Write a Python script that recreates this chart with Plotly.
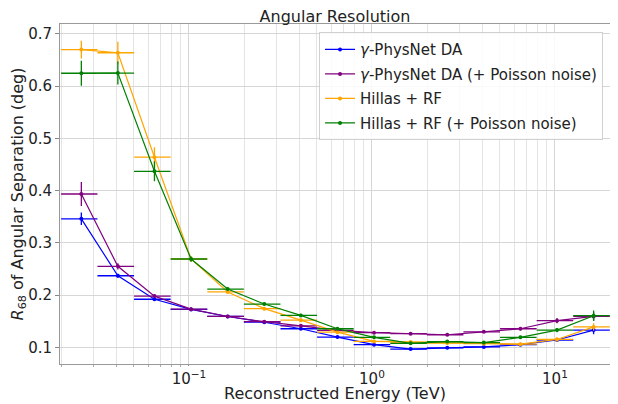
import plotly.graph_objects as go

# Energy bin edges (TeV)
bin_edges = [0.0200, 0.0316, 0.0501, 0.0794, 0.1259, 0.1995, 0.3162, 0.5012,
             0.7943, 1.2589, 1.9953, 3.1623, 5.0119, 7.9433, 12.589, 19.953]

# R68 values (deg)
physnet = [0.346, 0.237, 0.192, 0.1725, 0.159, 0.148, 0.1355, 0.1195, 0.105,
           0.0966, 0.099, 0.1007, 0.105, 0.114, 0.133]
physnet_err = [0.012, 0.004, 0.003, 0.003, 0.002, 0.002, 0.002, 0.002, 0.002,
               0.002, 0.002, 0.002, 0.002, 0.004, 0.008]
physnet_noise = [0.3935, 0.255, 0.198, 0.173, 0.159, 0.149, 0.141, 0.1325, 0.128,
                 0.126, 0.124, 0.1297, 0.1355, 0.151, 0.159]
physnet_noise_err = [0.023, 0.006, 0.004, 0.003, 0.002, 0.002, 0.002, 0.002, 0.002,
                     0.002, 0.002, 0.002, 0.003, 0.005, 0.008]
hillas = [0.670, 0.664, 0.464, 0.269, 0.206, 0.174, 0.152, 0.129, 0.1113,
          0.110, 0.108, 0.107, 0.106, 0.115, 0.139]
hillas_err = [0.017, 0.021, 0.019, 0.005, 0.003, 0.003, 0.003, 0.002, 0.002,
              0.002, 0.002, 0.002, 0.003, 0.004, 0.007]
hillas_noise = [0.6247, 0.625, 0.437, 0.269, 0.2115, 0.1828, 0.161, 0.1355, 0.119,
                0.1075, 0.111, 0.109, 0.119, 0.133, 0.1605]
hillas_noise_err = [0.024, 0.022, 0.019, 0.005, 0.003, 0.003, 0.003, 0.002, 0.002,
                    0.002, 0.002, 0.002, 0.003, 0.004, 0.010]

series_names = ["<i>γ</i>-PhysNet DA", "<i>γ</i>-PhysNet DA (+ Poisson noise)",
                "Hillas + RF", "Hillas + RF (+ Poisson noise)"]
series_colors = ["#0000ff", "#800080", "#ffa500", "#008000"]

x_tick_vals = [0.1, 1, 10]
x_tick_text = ["10<sup>−1</sup>", "10<sup>0</sup>", "10<sup>1</sup>"]
y_tick_vals = [0.1, 0.2, 0.3, 0.4, 0.5, 0.6, 0.7]
y_tick_text = ["0.1", "0.2", "0.3", "0.4", "0.5", "0.6", "0.7"]

centers = [(lo + hi) / 2 for lo, hi in zip(bin_edges[:-1], bin_edges[1:])]
half_w = [(hi - lo) / 2 for lo, hi in zip(bin_edges[:-1], bin_edges[1:])]

FONT = "DejaVu Sans"
W, H = 610, 396   # page has an 8px body margin
fig = go.Figure()
for i, (name, color, ys, es) in enumerate(zip(
        series_names, series_colors,
        [physnet, physnet_noise, hillas, hillas_noise],
        [physnet_err, physnet_noise_err, hillas_err, hillas_noise_err])):
    fig.add_trace(go.Scatter(
        x=centers, y=ys, name=name, mode="lines+markers", legendgroup=f"g{i}",
        line=dict(color=color, width=1.2),
        marker=dict(color=color, size=4),
        error_x=dict(type="data", array=half_w, color=color, thickness=1.3, width=0),
        error_y=dict(type="data", array=es, color=color, thickness=1.3, width=0),
    ))

minor_vals = [m * 10 ** d for d in (-2, -1, 0, 1) for m in range(2, 10)]

fig.update_layout(
    template="none",
    width=W, height=H,
    margin=dict(l=52, r=8, t=16, b=40),
    paper_bgcolor="white", plot_bgcolor="white",
    font=dict(family=FONT, size=15, color="#222"),
    title=dict(text="Angular Resolution", xref="container", x=(335 - 8) / W,
               xanchor="center", yref="container", y=1 - (16 - 8) / H, yanchor="middle",
               font=dict(size=16, family=FONT)),
    legend=dict(x=0.471, y=0.976, xanchor="left", yanchor="top",
                bgcolor="rgba(255,255,255,0.85)", bordercolor="#d0d0d0", borderwidth=1,
                tracegroupgap=2, font=dict(size=15, family=FONT)),
    xaxis=dict(type="log", range=[-1.705, 1.301], automargin=False,
               tickvals=x_tick_vals, ticktext=x_tick_text,
               ticks="outside", ticklen=1, tickcolor="#888",
               showgrid=True, gridcolor="#d6d6d6", gridwidth=1.2,
               minor=dict(tickmode="array", tickvals=minor_vals, showgrid=True,
                          gridcolor="#e4e4e4", gridwidth=1, ticks="outside", ticklen=2,
                          tickcolor="#aaa"),
               showline=True, linecolor="#999", mirror=True, zeroline=False,
               tickfont=dict(size=15)),
    yaxis=dict(range=[0.068, 0.719], automargin=False,
               tickvals=y_tick_vals, ticktext=y_tick_text,
               ticks="outside", ticklen=4, tickcolor="#888",
               showgrid=True, gridcolor="#d6d6d6", gridwidth=1.2,
               showline=True, linecolor="#999", mirror=True, zeroline=False,
               title=dict(text="<i>R</i><sub>68</sub> of Angular Separation (deg)",
                          standoff=3, font=dict(size=16)),
               tickfont=dict(size=15)),
    annotations=[dict(text="Reconstructed Energy (TeV)", xref="paper", yref="paper",
                      x=0.5, y=-(394 - 364) / 340, xanchor="center", yanchor="middle",
                      showarrow=False, font=dict(size=16, family=FONT, color="#222"))],
)

fig.write_html("out.html")
